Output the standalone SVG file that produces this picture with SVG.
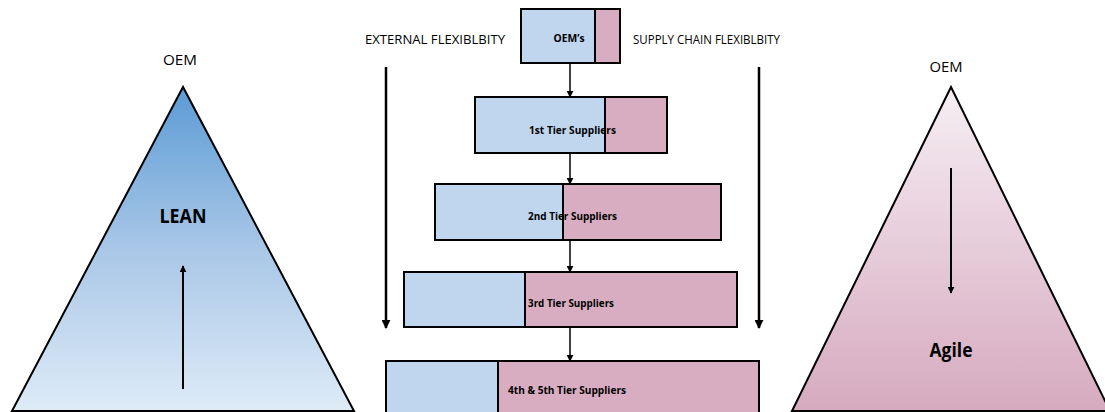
<svg xmlns="http://www.w3.org/2000/svg" width="1105" height="412" viewBox="0 0 1105 412">
<defs>
<linearGradient id="gBlue" x1="0" y1="0" x2="0" y2="1">
<stop offset="0" stop-color="#5b9bd5"/>
<stop offset="0.5" stop-color="#a9c7e7"/>
<stop offset="1" stop-color="#deebf7"/>
</linearGradient>
<linearGradient id="gPink" x1="0" y1="0" x2="0" y2="1">
<stop offset="0" stop-color="#f6eef3"/>
<stop offset="1" stop-color="#d6aabf"/>
</linearGradient>
<marker id="ah" viewBox="0 0 10 10" refX="9" refY="5" markerWidth="7" markerHeight="7" markerUnits="userSpaceOnUse" orient="auto">
<path d="M0,0 L10,5 L0,10 z" fill="#000"/>
</marker>
<marker id="ahL" viewBox="0 0 10 10" refX="9" refY="5" markerWidth="9" markerHeight="9" markerUnits="userSpaceOnUse" orient="auto">
<path d="M0,0 L10,5 L0,10 z" fill="#000"/>
</marker>
</defs>
<style>
.t{font-family:"Open Sans","Liberation Sans",sans-serif;fill:#000}
.lbl{font-size:12px}
.b{font-weight:bold;font-size:11px}
.big{font-weight:bold;font-size:20px}
.blue{fill:#bfd6ee;stroke:#000;stroke-width:2}
.pink{fill:#d8adc1;stroke:#000;stroke-width:2}
.ln{stroke:#000;fill:none}
</style>
<rect width="1105" height="412" fill="#fff"/>

<g id="lean">
<polygon points="183,87 12,411 354,411" fill="url(#gBlue)" stroke="#000" stroke-width="2"/>
<text class="t" x="180" y="65" font-size="15" text-anchor="middle" textLength="34" lengthAdjust="spacingAndGlyphs">OEM</text>
<text class="t big" x="183" y="223" text-anchor="middle" textLength="47" lengthAdjust="spacingAndGlyphs">LEAN</text>
<line class="ln" x1="183" y1="389" x2="183" y2="266" stroke-width="2" marker-end="url(#ah)"/>
</g>

<g id="agile">
<polygon points="951,87 792,411 1110,411" fill="url(#gPink)" stroke="#000" stroke-width="2"/>
<text class="t" x="946" y="72" font-size="15" text-anchor="middle" textLength="33" lengthAdjust="spacingAndGlyphs">OEM</text>
<text class="t big" x="951" y="357" text-anchor="middle" textLength="43" lengthAdjust="spacingAndGlyphs">Agile</text>
<line class="ln" x1="951" y1="168" x2="951" y2="293" stroke-width="2" marker-end="url(#ah)"/>
</g>

<g id="external">
<text class="t lbl" x="365" y="44" textLength="140" lengthAdjust="spacingAndGlyphs">EXTERNAL FLEXIBLBITY</text>
</g>
<g id="supply">
<text class="t lbl" x="633" y="44" textLength="147" lengthAdjust="spacingAndGlyphs">SUPPLY CHAIN FLEXIBLBITY</text>
</g>

<g id="oems">
<rect class="blue" x="521" y="9" width="74" height="54"/>
<rect class="pink" x="595" y="9" width="25" height="54"/>
<text class="t b" x="569" y="42" text-anchor="middle" textLength="31" lengthAdjust="spacingAndGlyphs">OEM’s</text>
</g>
<g id="tier1">
<rect class="blue" x="475" y="97" width="130" height="56"/>
<rect class="pink" x="605" y="97" width="62" height="56"/>
<text class="t b" x="529" y="134" textLength="87" lengthAdjust="spacingAndGlyphs">1st Tier Suppliers</text>
</g>
<g id="tier2">
<rect class="blue" x="435" y="184" width="128" height="56"/>
<rect class="pink" x="563" y="184" width="158" height="56"/>
<text class="t b" x="528" y="220" textLength="89" lengthAdjust="spacingAndGlyphs">2nd Tier Suppliers</text>
</g>
<g id="tier3">
<rect class="blue" x="404" y="272" width="121" height="55"/>
<rect class="pink" x="525" y="272" width="212" height="55"/>
<text class="t b" x="528" y="307" textLength="86" lengthAdjust="spacingAndGlyphs">3rd Tier Suppliers</text>
</g>
<g id="tier45">
<rect class="blue" x="386" y="361" width="112" height="60"/>
<rect class="pink" x="498" y="361" width="261" height="60"/>
<text class="t b" x="508" y="394" textLength="118" lengthAdjust="spacingAndGlyphs">4th &amp; 5th Tier Suppliers</text>
</g>

<g id="connectors">
<line class="ln" x1="570" y1="63" x2="570" y2="97" stroke-width="1.5" marker-end="url(#ah)"/>
<line class="ln" x1="570" y1="153" x2="570" y2="184" stroke-width="1.5" marker-end="url(#ah)"/>
<line class="ln" x1="570" y1="240" x2="570" y2="272" stroke-width="1.5" marker-end="url(#ah)"/>
<line class="ln" x1="570" y1="327" x2="570" y2="361" stroke-width="1.5" marker-end="url(#ah)"/>
<line class="ln" x1="386" y1="67" x2="386" y2="328" stroke-width="2.5" marker-end="url(#ahL)"/>
<line class="ln" x1="759" y1="67" x2="759" y2="328" stroke-width="2.5" marker-end="url(#ahL)"/>
</g>
</svg>
